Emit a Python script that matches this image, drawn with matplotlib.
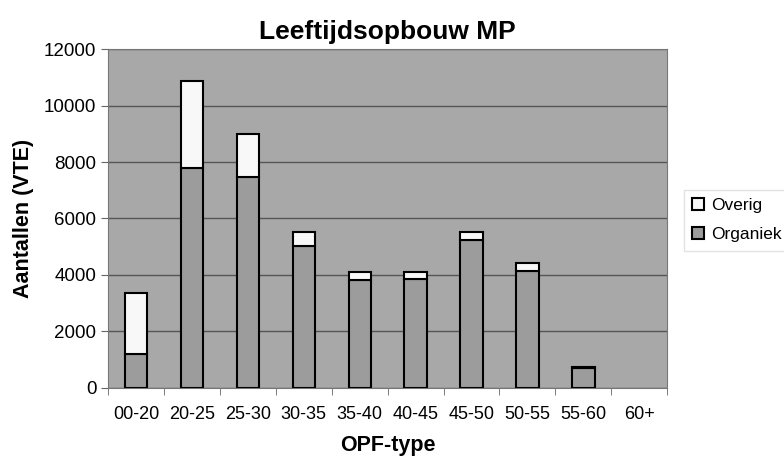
import matplotlib.pyplot as plt
import numpy as np

plt.rcParams["font.family"] = ["Liberation Sans", "DejaVu Sans"]

# --------------------------
# Data
# --------------------------
categories = ["00-20", "20-25", "25-30", "30-35", "35-40",
              "40-45", "45-50", "50-55", "55-60", "60+"]
organiek = [1200, 7790, 7470, 5030, 3820, 3870, 5250, 4140, 700, 0]
totaal = [3350, 10870, 8990, 5520, 4110, 4100, 5530, 4440, 730, 0]
overig = [t - o for t, o in zip(totaal, organiek)]

# --------------------------
# Plot
# --------------------------
fig = plt.figure(figsize=(7.84, 4.59), dpi=100)
ax = fig.add_axes([0.138, 0.155, 0.713, 0.738])
ax.set_facecolor("#a8a8a8")

x = np.arange(len(categories))
# zero-height bars are not drawn (60+ has no staff)
lw = [1.5 if t > 0 else 0 for t in totaal]
ax.bar(x, organiek, width=0.4, color="#9c9c9c", edgecolor="black",
       linewidth=lw, label="Organiek", zorder=3)
ax.bar(x, overig, width=0.4, bottom=organiek, color="#f8f8f8",
       edgecolor="black", linewidth=lw, label="Overig", zorder=3)

ax.set_xlim(-0.5, len(categories) - 0.5)
ax.set_ylim(0, 12000)
ax.set_yticks(range(0, 12001, 2000))
ax.yaxis.grid(True, color="#555555", linewidth=1, zorder=0)

ax.set_xticks(x)
ax.set_xticklabels(categories, fontsize=13)
ax.set_xticks(np.arange(-0.5, len(categories)), minor=True)
ax.tick_params(axis="x", which="major", length=0, pad=13)
ax.tick_params(axis="x", which="minor", length=5, direction="out", color="#666666")
ax.tick_params(axis="y", labelsize=13.5, length=5, color="#666666")

for s in ax.spines.values():
    s.set_color("#777777")

ax.set_title("Leeftijdsopbouw MP", fontsize=19, fontweight="bold", pad=7)
ax.set_ylabel("Aantallen (VTE)", fontsize=15.5, fontweight="bold", labelpad=7)
ax.set_xlabel("OPF-type", fontsize=15.5, fontweight="bold", labelpad=9)

handles, labels = ax.get_legend_handles_labels()
leg = fig.legend(handles[::-1], labels[::-1], loc="center left",
                 bbox_to_anchor=(0.872, 0.52), fontsize=12.5, frameon=True,
                 fancybox=False, edgecolor="#dddddd", handlelength=0.7,
                 handleheight=0.7, handletextpad=0.4, labelspacing=0.8,
                 borderaxespad=0, borderpad=0.5)
for p in leg.get_patches():
    p.set_linewidth(1.5)

fig.savefig("out.png", dpi=100)
